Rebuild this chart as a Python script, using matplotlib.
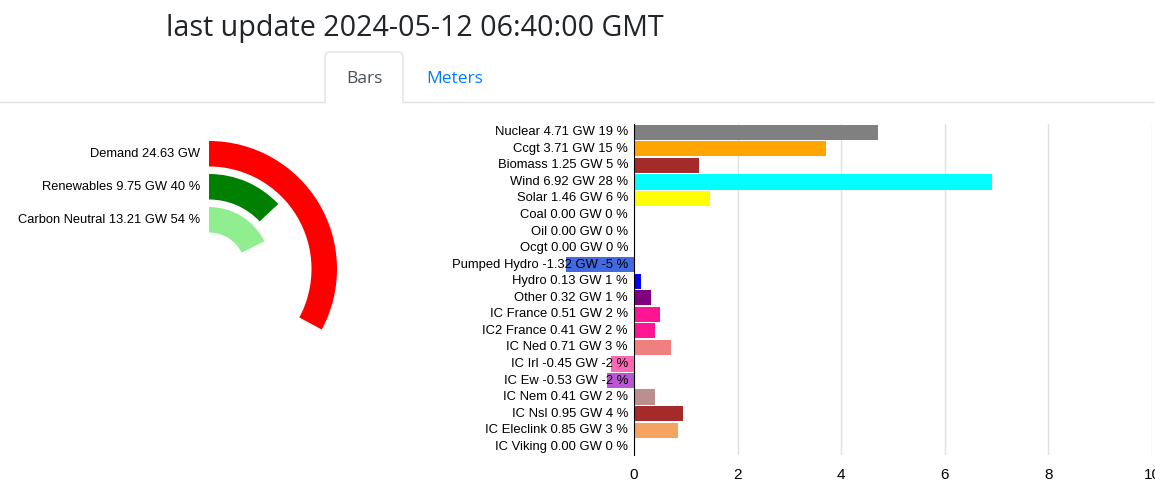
import matplotlib
matplotlib.use("Agg")
import matplotlib.pyplot as plt
from matplotlib.patches import Wedge, PathPatch
from matplotlib.path import Path
from matplotlib import transforms

# ---- data ----
sources = ["Nuclear", "Ccgt", "Biomass", "Wind", "Solar", "Coal", "Oil", "Ocgt",
           "Pumped Hydro", "Hydro", "Other", "IC France", "IC2 France", "IC Ned",
           "IC Irl", "IC Ew", "IC Nem", "IC Nsl", "IC Eleclink", "IC Viking"]
gw = [4.71, 3.71, 1.25, 6.92, 1.46, 0.00, 0.00, 0.00, -1.32, 0.13, 0.32,
      0.51, 0.41, 0.71, -0.45, -0.53, 0.41, 0.95, 0.85, 0.00]
pct = [19, 15, 5, 28, 6, 0, 0, 0, -5, 1, 1, 2, 2, 3, -2, -2, 2, 4, 3, 0]
bar_colors = ["#808080", "#ffa500", "#a52a2a", "#00ffff", "#ffff00", "#000000",
              "#000000", "#000000", "#4169e1", "#0000ff", "#800080", "#ff1493",
              "#ff1493", "#f08080", "#ff69b4", "#ba55d3", "#bc8f8f", "#a52a2a",
              "#f4a460", "#000000"]
xticks = [0, 2, 4, 6, 8, 10]

gauge_names = ["Demand", "Renewables", "Carbon Neutral"]
gauge_gw = [24.63, 9.75, 13.21]
gauge_pct = [None, 40, 54]
gauge_colors = ["#ff0000", "#008000", "#90ee90"]
gauge_full = 75.0   # GW for a full turn

title = "last update 2024-05-12 06:40:00 GMT"

W, H = 1155, 490
fig = plt.figure(figsize=(W / 100, H / 100), dpi=100, facecolor="white")

# page layer in pixel coordinates
page = fig.add_axes([0, 0, 1, 1])
page.set_xlim(0, W)
page.set_ylim(H, 0)
page.axis("off")

page.text(415, 36, title, fontsize=20.6, family="Open Sans", color="#212529",
          ha="center", va="baseline")

# tabs
line_c = "#dee2e6"
page.plot([0, 325], [102.5, 102.5], color=line_c, lw=1)
page.plot([403, W], [102.5, 102.5], color=line_c, lw=1)
r = 5
verts = [(325, 103), (325, 52 + r), (325, 52), (325 + r, 52), (403 - r, 52),
         (403, 52), (403, 52 + r), (403, 103)]
codes = [Path.MOVETO, Path.LINETO, Path.CURVE3, Path.CURVE3, Path.LINETO,
         Path.CURVE3, Path.CURVE3, Path.LINETO]
page.add_patch(PathPatch(Path(verts, codes), facecolor="none", edgecolor=line_c, lw=1))
page.text(364, 79, "Bars", fontsize=12.5, family="Open Sans", color="#495057",
          ha="center", va="center")
page.text(455, 79, "Meters", fontsize=12.5, family="Open Sans", color="#007bff",
          ha="center", va="center")

# gauge
cx, cy = 209, 269
outer = [128, 95, 62]
width = 25.5
for name, val, p, col, ro in zip(gauge_names, gauge_gw, gauge_pct, gauge_colors, outer):
    sweep = val / gauge_full * 360
    page.add_patch(Wedge((cx, cy), ro, -90, -90 + sweep, width=width,
                         facecolor=col, edgecolor="none"))
    lab = f"{name} {val:.2f} GW" + (f" {p} %" if p is not None else "")
    page.text(cx - 9, cy - ro + width / 2, lab, fontsize=9.3, family="Liberation Sans",
              ha="right", va="center", color="black")

# bar chart
ax = fig.add_axes([634 / W, 1 - 455 / H, (1152 - 634) / W, (455 - 124) / H])
ypos = list(range(len(sources)))
ax.barh(ypos, gw, height=0.92, color=bar_colors, clip_on=False, zorder=2)
ax.set_xlim(0, 10)
ax.set_ylim(len(sources) - 0.5, -0.5)
ax.set_axisbelow(True)
ax.set_xticks(xticks)
ax.set_xticklabels([str(t) for t in xticks], fontsize=11, family="Liberation Sans")
ax.tick_params(axis="x", length=0, pad=9)
ax.set_yticks([])
ax.grid(axis="x", color="#e0e0e0", lw=1)
for s in ["top", "right", "bottom"]:
    ax.spines[s].set_visible(False)
ax.spines["left"].set_color("black")
ax.spines["left"].set_zorder(3)

trans = transforms.offset_copy(ax.get_yaxis_transform(), fig=fig, x=-6, y=0, units="dots")
for i, (n, v, p) in enumerate(zip(sources, gw, pct)):
    ax.text(0, i, f"{n} {v:.2f} GW {p} %", transform=trans, ha="right", va="center",
            fontsize=9.4, family="Liberation Sans", zorder=5, clip_on=False)

fig.savefig("out.png", dpi=100, facecolor="white")
